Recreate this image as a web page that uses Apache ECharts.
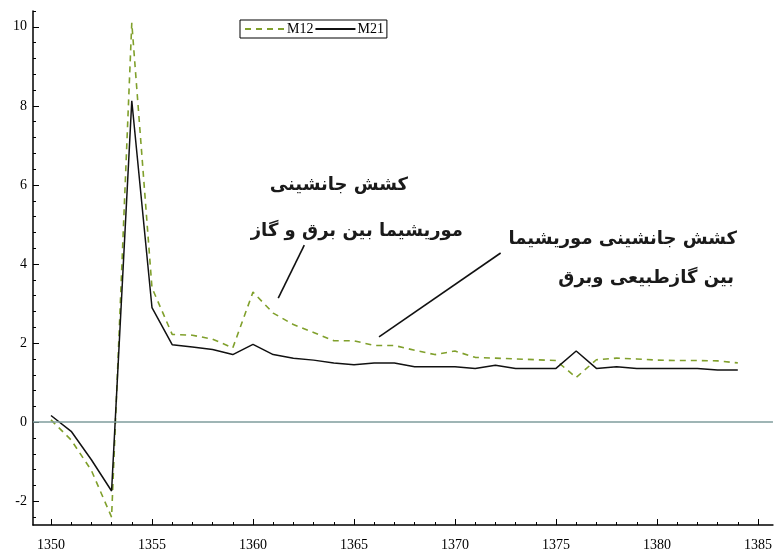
<!DOCTYPE html>
<html>
<head>
<meta charset="utf-8">
<script src="https://cdn.jsdelivr.net/npm/echarts@6/dist/echarts.min.js"></script>
<style>html,body{margin:0;padding:0;background:#fff;}#c{width:775px;height:558px;}</style>
</head>
<body>
<div id="c"></div>
<script>
var years = [1350,1351,1352,1353,1354,1355,1356,1357,1358,1359,1360,1361,1362,1363,1364,1365,1366,1367,1368,1369,1370,1371,1372,1373,1374,1375,1376,1377,1378,1379,1380,1381,1382,1383,1384];
var m12 = [0.06,-0.45,-1.22,-2.4,10.1,3.4,2.22,2.2,2.1,1.88,3.29,2.76,2.47,2.27,2.06,2.06,1.94,1.94,1.82,1.71,1.8,1.64,1.62,1.6,1.58,1.56,1.13,1.58,1.62,1.6,1.57,1.56,1.56,1.55,1.5];
var m21 = [0.17,-0.23,-0.95,-1.74,8.13,2.9,1.96,1.9,1.84,1.71,1.97,1.71,1.62,1.57,1.5,1.45,1.5,1.5,1.4,1.4,1.4,1.36,1.44,1.36,1.36,1.36,1.8,1.36,1.4,1.36,1.36,1.36,1.36,1.32,1.32];
var xTickLabels = [1350,1355,1360,1365,1370,1375,1380,1385];
var yTickLabels = [-2,0,2,4,6,8,10];
var seriesNames = ['M12','M21'];
var note1 = ['کشش جانشینی', 'موریشیما بین برق و گاز'];
var note2 = ['کشش جانشینی موریشیما', 'بین گازطبیعی وبرق'];
var arrow1 = [[1362.54, 4.48],[1361.25, 3.14]];
var arrow2 = [[1372.26, 4.28],[1366.24, 2.16]];

var xMinor = [];
for (var i = 1350; i <= 1385; i++) if (i % 5 !== 0) xMinor.push(i);
var yMinor = [];
for (var k = -6; k <= 26; k++) { var v = Math.round(k*0.4*10)/10; if (Math.abs(v/2 - Math.round(v/2)) > 1e-6) yMinor.push(v); }

var XMIN = 1349.11, XMAX = 1385.74, YMIN = -2.6, YMAX = 10.4;
var tickFont = 'Liberation Serif';
var noteFont = 'bold 18px "DejaVu Sans"';

function pairs(arr){ return years.map(function(y,i){return [y, arr[i]];}); }

var chart = echarts.init(document.getElementById('c'));
chart.setOption({
  animation:false,
  backgroundColor:'#fff',
  grid:{left:33,right:0,top:11,bottom:33},
  legend:{
    data:seriesNames, left:240, top:20, orient:'horizontal',
    padding:[2,3,2,4], borderColor:'#000', borderWidth:1, backgroundColor:'#fff',
    itemWidth:40, itemHeight:12, itemGap:1,
    itemStyle:{opacity:0},
    textStyle:{fontFamily:tickFont, fontSize:14, color:'#000', padding:[0,0,0,-3]}
  },
  xAxis:[
    {type:'value', min:XMIN, max:XMAX, position:'bottom',
     axisLine:{show:true, onZero:false, lineStyle:{color:'#000', width:1.5}},
     axisTick:{show:true, inside:true, length:6, customValues:xTickLabels, lineStyle:{color:'#000'}},
     axisLabel:{show:true, customValues:xTickLabels, margin:13, formatter:function(v){return String(v);}, fontFamily:tickFont, fontSize:14, color:'#000'},
     splitLine:{show:false}},
    {type:'value', min:XMIN, max:XMAX, position:'bottom',
     axisLine:{show:false, onZero:false},
     axisTick:{show:true, inside:true, length:3, customValues:xMinor, lineStyle:{color:'#000'}},
     axisLabel:{show:false}, splitLine:{show:false}}
  ],
  yAxis:[
    {type:'value', min:YMIN, max:YMAX, position:'left',
     axisLine:{show:true, onZero:false, lineStyle:{color:'#000', width:1.5}},
     axisTick:{show:true, inside:true, length:6, customValues:yTickLabels, lineStyle:{color:'#000'}},
     axisLabel:{show:true, customValues:yTickLabels, margin:6, fontFamily:tickFont, fontSize:14, color:'#000'},
     splitLine:{show:false}},
    {type:'value', min:YMIN, max:YMAX, position:'left', offset:0,
     axisLine:{show:false, onZero:false},
     axisTick:{show:true, inside:true, length:3, customValues:yMinor, lineStyle:{color:'#000'}},
     axisLabel:{show:false}, splitLine:{show:false}}
  ],
  series:[
    {name:'M12', type:'line', data:pairs(m12), showSymbol:false, symbol:'none',
     lineStyle:{color:'#80a02c', width:1.6, type:[6,5]}, itemStyle:{color:'#80a02c'},
     z:3,
     markLine:{silent:true, symbol:['none','none'], label:{show:false},
       lineStyle:{color:'#7f9c9c', width:1.5, type:'solid'},
       data:[{yAxis:0}]}},
    {name:'M21', type:'line', data:pairs(m21), showSymbol:false, symbol:'none',
     lineStyle:{color:'#111', width:1.5}, itemStyle:{color:'#111'},
     z:4,
     markLine:{silent:true, symbol:['none','none'], label:{show:false},
       lineStyle:{color:'#111', width:1.6, type:'solid'},
       data:[[{coord:arrow1[0]},{coord:arrow1[1]}],[{coord:arrow2[0]},{coord:arrow2[1]}]]}}
  ],
  graphic:[
    {type:'text', right:775-408, top:176, style:{text:note1[0], font:noteFont, fill:'#1a1a1a', textAlign:'right'}},
    {type:'text', right:775-463, top:222, style:{text:note1[1], font:noteFont, fill:'#1a1a1a', textAlign:'right'}},
    {type:'text', right:775-737, top:230, style:{text:note2[0], font:noteFont, fill:'#1a1a1a', textAlign:'right'}},
    {type:'text', right:775-734, top:269, style:{text:note2[1], font:noteFont, fill:'#1a1a1a', textAlign:'right'}}
  ]
});
</script>
</body>
</html>
